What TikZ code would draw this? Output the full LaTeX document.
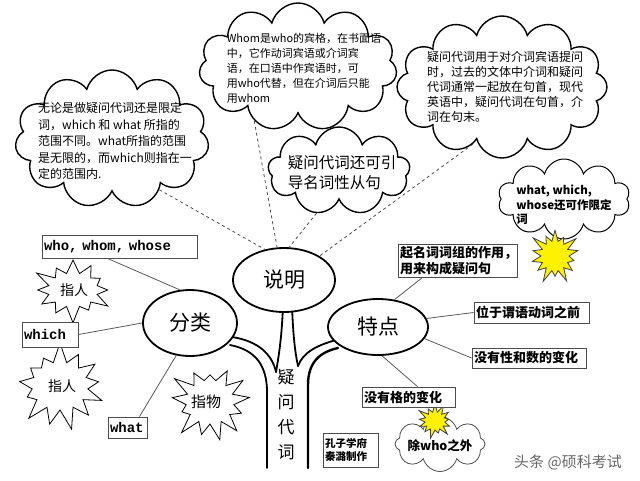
\documentclass[tikz,border=0pt]{standalone}
\usepackage{fontspec}
\setmainfont{Noto Sans CJK SC}
\newfontfamily\monofont{Liberation Mono}
\usepackage{tikz}
\usetikzlibrary{shapes.symbols}
\usetikzlibrary{shapes.geometric}
\usepackage{xcolor}

\tikzset{
	puffcloud/.style={cloud, draw=black, line width=1.4pt, fill=white, cloud ignores aspect, inner sep=0pt},
	burst/.style={starburst, draw=black, line width=0.8pt, fill=white, inner sep=0pt, starburst point height=18pt},
	yburst/.style={burst, fill=yellow, draw=black!75},
	tagbox/.style={rectangle, draw=black!70, line width=0.9pt, fill=white, inner sep=2pt, align=left, font=\fontsize{13}{16}\selectfont\bfseries},
	bigoval/.style={ellipse, draw=black, line width=1.8pt, fill=white, inner sep=0pt, font=\fontsize{21}{21}\selectfont},
	link/.style={draw=black!65, line width=0.8pt},
	dlink/.style={draw=black!70, line width=0.8pt, dashed},
	trunkline/.style={line width=1.8pt, line cap=round}
}

\begin{document}
\begin{tikzpicture}[x=1pt, y=-1pt]
	\useasboundingbox (0,0) rectangle (640,480);
	% clouds
	\node[puffcloud, cloud puffs=11, minimum width=194pt, minimum height=138pt] (c1) at (112,139) {};
	\node[puffcloud, cloud puffs=11, minimum width=198pt, minimum height=128pt] (c2) at (298,67) {};
	\node[puffcloud, cloud puffs=9, minimum width=142pt, minimum height=88pt] (c3) at (339,171) {};
	\node[puffcloud, cloud puffs=12, minimum width=210pt, minimum height=142pt] (c4) at (502,87) {};
	\node[puffcloud, cloud puffs=10, minimum width=132pt, minimum height=80pt, line width=1pt] (c5) at (564,199) {};
	\node[puffcloud, cloud puffs=8, minimum width=90pt, minimum height=55pt, line width=0.8pt, draw=black!70] (c6) at (440,444) {};
	% cloud texts
	\node[align=left, font=\fontsize{12}{16.5}\selectfont] (c1t) at (115,141) {无论是做疑问代词还是限定\\词，which 和 what 所指的\\范围不同。what所指的范围\\是无限的，而which则指在一\\定的范围内.};
	\node[align=left, font=\fontsize{11}{15}\selectfont] (c2t) at (304,68) {Whom是who的宾格，在书面语\\中，它作动词宾语或介词宾\\语，在口语中作宾语时，可\\用who代替，但在介词后只能\\用whom};
	\node[align=left, font=\fontsize{15.5}{20}\selectfont] (c3t) at (342,173) {疑问代词还可引\\导名词性从句};
	\node[align=left, font=\fontsize{12}{15.2}\selectfont] (c4t) at (505,87) {疑问代词用于对介词宾语提问\\时，过去的文体中介词和疑问\\代词通常一起放在句首，现代\\英语中，疑问代词在句首，介\\词在句末。};
	\node[align=left, font=\fontsize{11.5}{14.5}\selectfont\bfseries] (c5t) at (564,205) {what, which,\\whose还可作限定\\词};
	\node[font=\fontsize{12.5}{14}\selectfont\bfseries] (c6t) at (440,446) {除who之外};
	% trunk
	\draw[trunkline] (230,345) .. controls (256,350) and (267,366) .. (267,392) -- (267,468);
	\draw[trunkline] (232,337) .. controls (258,341) and (272,354) .. (276,372);
	\draw[trunkline] (283,305) .. controls (282,335) and (279,355) .. (276,372);
	\draw[trunkline] (292,305) .. controls (293,335) and (295,352) .. (298,366);
	\draw[trunkline] (336,340) .. controls (318,345) and (303,352) .. (298,366);
	\draw[trunkline, line width=2.4pt] (338,348) .. controls (320,352) and (308,362) .. (308,385) -- (308,468);
	\node[align=center, font=\fontsize{17}{25}\selectfont] (trunk) at (286,415) {疑\\问\\代\\词};
	% ovals
	\node[bigoval, minimum width=102pt, minimum height=64pt] (sm) at (284,280) {说明};
	\node[bigoval, minimum width=94pt, minimum height=66pt] (fl) at (190,323) {分类};
	\node[bigoval, minimum width=100pt, minimum height=56pt] (td) at (378,327) {特点};
	% dashed links
	\draw[dlink] (c1.-47) -- (sm.122);
	\draw[dlink] (c2.-129) -- (sm.102);
	\draw[dlink] (c3.-118) -- (sm.81);
	\draw[dlink] (c4.-117) -- (sm.34);
	% bursts
	\node[burst, starburst points=12, minimum width=86pt, minimum height=70pt] (h1) at (73,290) {};
	\node[font=\fontsize{14}{14}\selectfont] (h1t) at (74,290) {指人};
	\node[burst, starburst points=13, minimum width=98pt, minimum height=90pt, random starburst=7, starburst point height=21pt] (h2) at (60,386) {};
	\node[font=\fontsize{14}{14}\selectfont] (h2t) at (62,386) {指人};
	\node[burst, starburst points=13, minimum width=88pt, minimum height=84pt, random starburst=23, starburst point height=20pt] (wu) at (210,402) {};
	\node[font=\fontsize{15}{15}\selectfont] (wut) at (206,402) {指物};
	\node[yburst, starburst points=14, minimum width=58pt, minimum height=60pt, starburst point height=15pt] (ys1) at (555,256) {};
	\node[yburst, starburst points=13, minimum width=40pt, minimum height=38pt, starburst point height=10pt] (ys2) at (435,421) {};
	% boxes
	\node[tagbox, font=\fontsize{14}{14}\monofont\bfseries, minimum width=155pt, minimum height=23pt, text width=151pt] (wbox) at (119.5,246.5) {who, whom, whose};
	\node[tagbox, font=\fontsize{14}{14}\monofont\bfseries, minimum width=56pt, minimum height=25pt, text width=52pt] (wch) at (50,334.5) {which};
	\node[tagbox, font=\fontsize{14}{14}\monofont\bfseries, minimum width=39pt, minimum height=21pt, text width=35pt] (wht) at (127.5,427.5) {what};
	\node[tagbox, minimum width=119pt, minimum height=33pt, text width=115pt] (qbox) at (457.5,260.5) {起名词词组的作用，\\用来构成疑问句};
	\node[tagbox, minimum width=115pt, minimum height=21pt, text width=111pt] (wq) at (531.5,312.5) {位于谓语动词之前};
	\node[tagbox, minimum width=114pt, minimum height=20pt, text width=110pt] (mx) at (529,358) {没有性和数的变化};
	\node[tagbox, minimum width=93pt, minimum height=20pt, text width=89pt] (gx) at (408.5,397) {没有格的变化};
	\node[tagbox, font=\fontsize{10.5}{13.5}\selectfont\bfseries, minimum width=55pt, minimum height=34pt, text width=51pt] (kz) at (350.5,450) {孔子学府\\秦潞制作};
	% solid links
	\draw[link] ([xshift=-12pt]wbox.south) -- (fl.107);
	\draw[link] (wch.east) -- (fl.west);
	\draw[link] ([xshift=12pt]wht.north) -- (fl.-113);
	\draw[link] ([xshift=-35pt]qbox.south) -- (td.59);
	\draw[link] (td.10) -- (wq.west);
	\draw[link] (td.-14) -- (mx.west);
	\draw[link] (td.-82) -- ([xshift=9pt]gx.north);
	% watermark
	\node[text=black!60, font=\fontsize{15}{15}\selectfont] (wm) at (568,462) {头条 @硕科考试};
\end{tikzpicture}
\end{document}
